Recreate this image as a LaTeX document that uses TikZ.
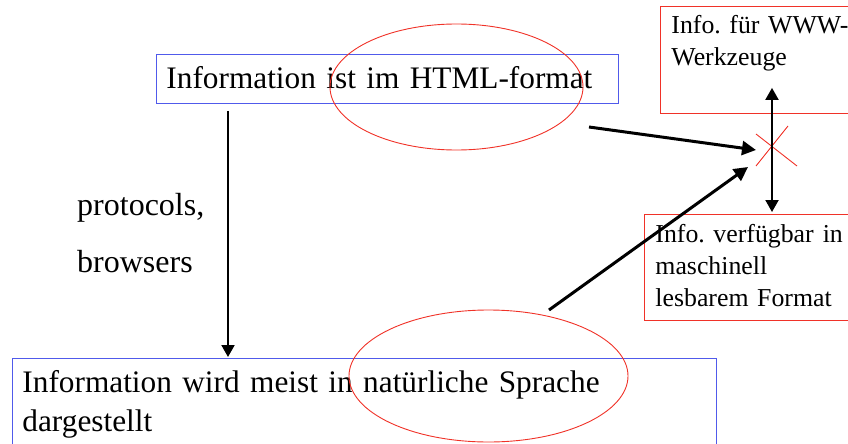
\documentclass[tikz,border=0pt]{standalone}
\usepackage{fontspec}
\setmainfont{Liberation Serif}
\usetikzlibrary{arrows.meta,calc,shapes.geometric}
\definecolor{boxblue}{RGB}{80,90,235}
\definecolor{markred}{RGB}{240,50,40}

\begin{document}
\frenchspacing
\begin{tikzpicture}[x=1pt,y=-1pt]
  \useasboundingbox (0,0) rectangle (848,444);
  \begin{scope}[every node/.style={draw=boxblue,line width=0.9pt,anchor=north west,inner ysep=0pt,inner xsep=10pt,align=left,font=\fontsize{31.3}{39}\selectfont}]
  \node[text width=442pt,text height=34pt,text depth=15pt] (html) at (156,54) {Information ist im HTML-format};
  \node[text width=684pt,text height=34pt,text depth=70pt] (natural) at (12,358) {Information wird meist in natürliche Sprache\\dargestellt};
  \end{scope}
  \begin{scope}[every node/.style={draw=markred,line width=0.9pt,anchor=north west,inner ysep=0pt,inner xsep=11pt,text width=280pt,align=left,font=\fontsize{25.8}{32}\selectfont}]
  \node[text height=27pt,text depth=80pt] (tools) at (660,6) {Info. für WWW-\\Werkzeuge};
  \node[text height=28pt,text depth=78pt] (machine) at (644,214) {Info. verfügbar\hspace{9pt}in\\maschinell\\lesbarem Format};
  \end{scope}
  \node[anchor=north west,inner sep=0pt,text width=150pt,text height=34pt,align=left,font=\fontsize{32}{57}\selectfont] (means) at (77,181) {protocols,\\browsers};
  % rings and cross
  \begin{scope}[every node/.style={ellipse,draw=markred,line width=0.9pt,inner sep=0pt}]
  \node[minimum width=253pt,minimum height=126pt] (htmlring) at (456.5,87) {};
  \node[minimum width=279pt,minimum height=132pt] (naturalring) at (488.5,376) {};
  \end{scope}
  \coordinate (cross) at (772,146);
  \draw[markred,line width=0.9pt] ($(cross)+(-16,-12)$) -- ($(cross)+(25,20)$);
  \draw[markred,line width=0.9pt] ($(cross)+(16,-20)$) -- ($(cross)+(-16,20)$);
  % arrows
  \coordinate (htmltail) at (589,127);
  \coordinate (naturaltail) at (549,310);
  \begin{scope}[every edge/.style={draw=black,line width=3pt,-{Triangle[length=14pt,width=14pt]}}]
  \path (htmltail) edge ($(cross)+(-16,4)$);
  \path (naturaltail) edge ($(cross)+(-24,21)$);
  \end{scope}
  \begin{scope}[every edge/.style={draw=black,line width=2pt}]
  \path ($(html.south west)+(72,7)$) edge[-{Triangle[length=12pt,width=13pt]}] ($(natural.north west)+(216,-1)$);
  \path ($(tools.south west)+(112,-26)$) edge[{Triangle[length=12pt,width=13pt]}-{Triangle[length=12pt,width=13pt]}] ($(machine.north west)+(128,-2)$);
  \end{scope}
\end{tikzpicture}
\end{document}
